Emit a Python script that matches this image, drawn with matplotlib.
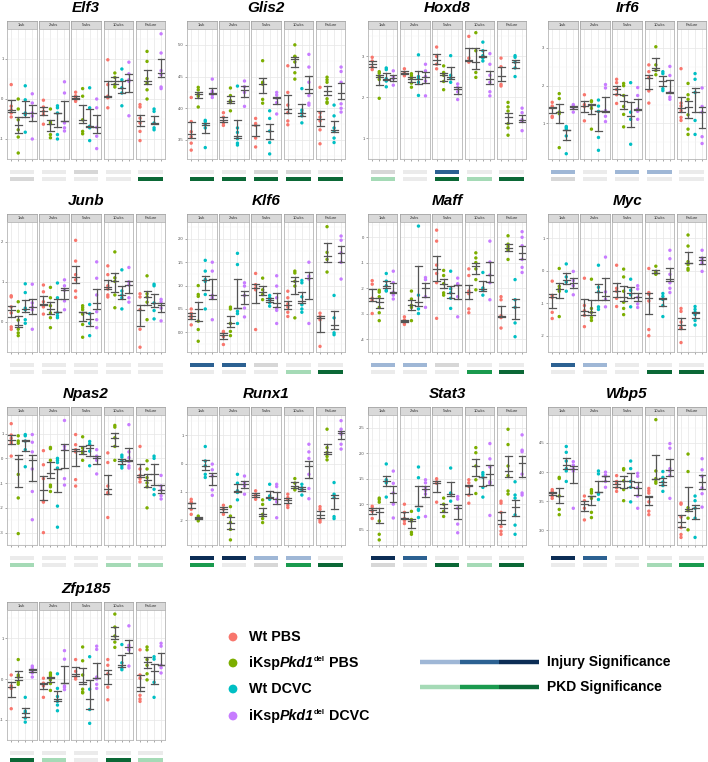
import matplotlib
matplotlib.use("Agg")
import matplotlib.pyplot as plt
import numpy as np

plt.rcParams["font.family"] = ["Liberation Sans", "DejaVu Sans"]

W, H = 708, 762

timepoints = ["1wk", "2wks", "5wks", "10wks", "Failure"]
groups = ["Wt PBS", "iKspPkd1del PBS", "Wt DCVC", "iKspPkd1del DCVC"]
group_colors = ["#F8766D", "#7CAE00", "#00BFC4", "#C77CFF"]

# values per gene: [timepoint][group] -> points
elf3 = [
    [[0.36, -0.18, -0.27, -0.35, -0.45], [0, -0.25, -0.52, -0.77, -0.95, -1.35], [0.33, -0.02, -0.35, -0.39, -0.83], [0.13, -0.1, -0.35, -0.43, -1.0]],
    [[-0.03, -0.2, -0.31, -0.39, -0.63], [-0.25, -0.58, -0.62, -0.89, -0.97], [-0.17, -0.22, -0.35, -0.89, -1.0], [0.43, 0.15, -0.6, -0.72, -0.8]],
    [[0.17, 0.08, 0.03, -0.02, -0.06], [0.26, 0.07, -0.52, -0.81, -0.87], [0.28, -0.22, -0.68, -0.72, -1.04], [0, -0.22, -0.71, -0.93, -1.24]],
    [[0.98, 0.36, 0.07, 0.03, -0.22], [0.65, 0.54, 0.36, 0.3], [0.75, 0.48, 0.28, 0.15, -0.17], [0.92, 0.63, 0.48, 0.44, -0.42]],
    [[-0.14, -0.2, -0.48, -0.6, -0.81, -1.04], [1.19, 0.94, 0.51, 0.4, 0.23, 0], [-0.25, -0.31, -0.6, -0.72, -0.77], [1.63, 1.15, 0.71, 0.61, 0.3, 0.26]],
]
glis2 = [
    [[4.17, 3.79, 3.63, 3.55, 3.45, 3.34], [4.33, 4.29, 4.22, 4.19, 4.02], [3.81, 3.79, 3.74, 3.69, 3.38], [4.46, 4.27, 4.24, 4.21, 4.17]],
    [[3.93, 3.86, 3.77, 3.73], [4.32, 4.2, 4.12, 4.09, 3.96], [4.35, 3.69, 3.62, 3.52, 3.45, 3.42], [4.43, 4.34, 4.25, 4.03]],
    [[3.84, 3.76, 3.73, 3.53, 3.39], [4.75, 4.41, 4.38, 4.14, 4.08], [3.96, 3.84, 3.64, 3.46, 3.28], [4.25, 4.21, 4.16, 4.09, 3.91]],
    [[4.67, 4.25, 4.05, 3.93, 3.8, 3.74], [5.0, 4.82, 4.81, 4.73, 4.56, 4.46], [4.31, 3.97, 3.93, 3.88, 3.77], [4.85, 4.65, 4.41, 4.2, 4.08, 4.05]],
    [[4.33, 3.93, 3.86, 3.8, 3.66, 3.44], [4.49, 4.45, 4.41, 4.15, 4.1, 4.08], [4.05, 3.88, 3.69, 3.64, 3.53, 3.46], [4.65, 4.58, 4.41, 4.07, 4.0, 3.94]],
]
hoxd8 = [
    [[2.98, 2.89, 2.74, 2.68], [2.63, 2.59, 2.51, 2.44, 1.98], [2.72, 2.68, 2.46, 2.4, 2.26], [2.65, 2.51, 2.46, 2.3]],
    [[2.7, 2.61, 2.58, 2.53], [2.58, 2.53, 2.46, 2.35, 2.25], [3.04, 2.51, 2.46, 2.37, 2.05], [2.81, 2.65, 2.51, 2.4, 2.04]],
    [[3.23, 3.0, 2.81, 2.7], [2.77, 2.61, 2.54, 2.39, 2.19], [3.02, 2.54, 2.46, 2.37], [2.33, 2.25, 2.14, 1.95]],
    [[3.49, 2.96, 2.89, 2.86], [3.58, 3.14, 2.61, 2.49], [3.35, 3.14, 3.02, 2.96, 2.89], [3.07, 2.81, 2.54, 2.37, 2.14, 2.04]],
    [[2.96, 2.75, 2.32, 2.28], [1.88, 1.77, 1.67, 1.36, 1.26, 1.08], [3.02, 2.98, 2.86, 2.72, 2.51], [1.74, 1.63, 1.46, 1.42, 1.19]],
]
irf6 = [
    [[1.56, 1.46, 1.42, 1.19, 1.16], [1.79, 1.66, 1.3, 1.26, 0.36], [0.92, 0.89, 0.85, 0.67, 0.2], [1.5, 1.46, 1.42, 1.3]],
    [[1.76, 1.5, 1.45, 1.07], [1.6, 1.58, 1.48, 1.4, 0.85], [1.62, 1.46, 1.32, 0.63, 0.29], [2.03, 1.94, 1.34, 1.19, 1.05]],
    [[2.17, 2.08, 1.9, 1.76, 1.53], [2.06, 2.0, 1.74, 1.45, 1.24, 0.91], [2.08, 1.3, 1.11, 0.45], [1.95, 1.74, 1.38, 1.32, 1.11]],
    [[2.55, 2.37, 2.21, 1.86, 1.54], [3.03, 2.55, 2.4, 2.29], [2.37, 2.32, 1.92, 1.87], [2.51, 2.27, 1.82, 1.7, 1.64]],
    [[2.45, 1.54, 1.46, 1.34, 1.16, 1.08], [2.06, 1.76, 1.64, 1.23, 0.85, 0.71], [2.32, 2.17, 1.82, 1.08, 0.71], [1.94, 1.45, 1.3, 0.65, 0.47]],
]
junb = [
    [[0.65, 0.62, 0.37, 0.22, -0.13, -0.19], [0.5, 0.26, 0.04, -0.19, -0.28, -0.35], [0.95, 0.73, 0.34, 0.3, 0.05, -0.04], [0.94, 0.47, 0.37, 0.3, -0.19]],
    [[0.92, 0.75, 0.5, 0.41, 0.37, 0.19], [0.86, 0.6, 0.4, 0.22, 0.1, -0.15], [0.97, 0.6, 0.22, 0.15, 0.1], [1.05, 0.9, 0.79, 0.52, 0.3]],
    [[2.04, 1.52, 1.18, 1.05, 0.77, 0.61], [0.4, 0.35, 0.3, 0.19, -0.07, -0.39], [0.43, 0.2, -0.04, -0.35], [1.5, 1.09, 0.67, 0.25, 0.05, -0.15]],
    [[1.4, 1.18, 0.9, 0.82, 0.67, 0.62], [1.75, 1.1, 1.01, 0.67, 0.35], [1.3, 0.77, 0.67, 0.6, 0.32], [1.36, 1.0, 0.92, 0.6, 0.49]],
    [[0.7, 0.62, 0.3, -0.19, -0.64], [1.15, 0.7, 0.62, 0.49, 0.05], [0.94, 0.9, 0.47, 0.28, 0.07], [0.56, 0.5, 0.34, 0.02]],
]
klf6 = [
    [[0.5, 0.41, 0.36, 0.31, 0.16], [1.0, 0.81, 0.77, 0.24, 0.06, -0.19], [1.54, 1.31, 1.13, 1.09, 0.81, 0.5], [1.5, 1.31, 0.79, 0.74, 0.27]],
    [[0.02, -0.01, -0.09, -0.26], [0.54, 0.5, 0.19, 0.02, -0.07], [1.69, 1.45, 0.45, 0.4, 0.19], [1.06, 0.99, 0.79, 0.52, 0.33]],
    [[1.26, 1.02, 0.95, 0.91, 0.06], [1.16, 0.91, 0.81, 0.7], [0.79, 0.74, 0.7, 0.63, 0.56], [1.21, 0.99, 0.74, 0.52, 0.47, 0.19]],
    [[0.88, 0.74, 0.61, 0.54, 0.43, 0.34], [1.31, 1.27, 1.09, 0.99, 0.31], [1.11, 1.06, 0.76, 0.59, 0.5, 0.43], [1.5, 1.2, 1.14, 0.19]],
    [[0.41, 0.34, 0.27, -0.3], [2.26, 1.71, 1.56, 1.29], [0.79, 0.31, -0.01, -0.05], [2.06, 1.97, 1.7, 1.5, 1.14]],
]
maff = [
    [[-1.7, -1.84, -2.39, -2.47, -2.99], [-2.08, -2.15, -2.33, -2.75, -2.96, -3.27], [-1.42, -1.72, -1.9, -2.08, -2.11], [-1.33, -1.78, -2.15, -2.27, -2.42]],
    [[-3.12, -3.24, -3.3, -3.36, -3.42], [-2.11, -2.42, -2.67, -2.75, -3.27], [0.44, -2.27, -2.81, -2.99], [-1.58, -1.66, -2.33, -2.75]],
    [[0.28, -0.15, -1.09, -1.42, -1.78, -3.18], [-1.3, -1.5, -1.82, -2.18, -2.27], [-1.33, -2.02, -2.18, -2.39, -2.79], [-1.6, -1.82, -1.87, -2.33, -3.12]],
    [[-1.24, -1.5, -2.11, -2.21, -2.81, -2.96], [-0.61, -0.81, -0.99, -1.24, -1.66, -2.06], [-1.38, -1.99, -2.06, -2.27], [-0.15, -0.97, -1.48, -1.78, -2.45]],
    [[-2.33, -2.45, -3.08, -3.15, -3.56], [0.06, -0.27, -0.36, -0.45, -0.51, -0.87], [-1.66, -2.45, -2.75, -3.36, -3.9], [0.22, 0, -0.33, -0.87, -1.18, -1.38]],
]
myc = [
    [[-0.32, -0.76, -0.82, -1.28, -1.47], [0.07, -0.48, -0.56, -0.63, -1.41], [0.21, -0.19, -0.35, -0.63], [-0.02, -0.3, -0.46, -0.74]],
    [[-0.23, -1.07, -1.23, -1.37, -1.72], [-0.26, -1.16, -1.28, -1.44, -1.53], [0.17, -0.51, -0.65, -1.11, -1.19], [0.42, -0.65, -0.88, -1.11]],
    [[0.17, -0.54, -0.63, -0.85, -1.1], [0.05, -0.19, -0.63, -0.97, -1.16, -1.35], [-0.26, -0.6, -0.74, -1.11], [-0.46, -0.56, -0.82, -1.02, -1.13]],
    [[0.07, -0.67, -0.72, -0.93, -1.81, -2.0], [0.14, -0.02, -0.07, -0.09, -0.11], [-0.7, -0.79, -0.88, -1.07, -1.41], [0.63, 0.37, -0.11, -0.37, -0.54, -0.67]],
    [[-1.16, -1.25, -1.58, -1.75, -1.78, -2.21], [1.1, 0.76, 0.28, 0.19, 0.07, 0.02], [-1.1, -1.19, -1.28, -1.35, -1.53, -1.67], [0.63, 0.39, 0.32, 0.23, -0.02]],
]
npas2 = [
    [[1.4, 0.94, 0.81, 0.7, 0.61, 0.09], [0.91, 0.7, 0.61, -0.65, -1.6, -3.04], [0.96, 0.91, 0.7, 0.35, -0.34], [0.96, 0.65, 0.26, -0.43, -1.34, -2.48]],
    [[0.31, -0.26, -0.82, -1.73, -1.77, -3.0], [0.44, 0.39, -0.08, -1.08, -1.15, -1.34], [0, -0.08, -0.17, -0.39, -1.93, -2.78], [1.53, 0.48, 0.35, -0.82, -1.08]],
    [[0.96, 0.55, 0.35, 0.26, -0.86, -1.12], [0.87, 0.42, 0.29, 0.22, -0.08], [0.68, 0.57, 0.29, -0.3], [0.35, 0.09, 0, -0.08, -0.63]],
    [[0.22, -0.17, -1.12, -1.38, -1.43, -2.39], [1.33, 1.26, 0.83, 0.48, -0.08], [0.13, 0.05, -0.1, -0.3, -0.39], [1.36, 0.26, 0.03, -0.13, -0.3, -0.39]],
    [[0.48, -0.43, -0.69, -0.82, -0.95], [-0.1, -0.43, -0.78, -0.99, -1.15, -2.0], [0.09, 0, -1.25, -1.47], [-0.69, -1.12, -1.28, -1.51, -1.64]],
]
runx1 = [
    [[-1.26, -1.35, -1.4, -1.61, -1.79], [-1.85, -1.91, -1.96, -2.02], [0.6, 0.09, -0.08, -0.38, -0.49], [-0.02, -0.22, -0.44, -0.93, -1.12]],
    [[-1.47, -1.61, -1.79], [-1.52, -1.85, -2.08, -2.32, -2.69], [-0.38, -0.69, -0.96, -1.02, -1.28], [-0.44, -0.67, -0.79, -1.08]],
    [[-0.96, -1.08, -1.16, -1.26], [-1.28, -1.44, -1.79, -1.94, -2.08], [-0.73, -1.14, -1.2, -1.26], [-0.73, -0.81, -1.26, -1.35, -1.91]],
    [[-1.08, -1.2, -1.28, -1.47, -1.55], [-0.53, -0.69, -0.88, -0.93], [-0.73, -0.85, -0.93, -1.11], [0.68, 0.41, 0.18, -0.38, -0.88, -1.24]],
    [[-1.52, -1.61, -1.99, -2.06], [1.21, 0.56, 0.39, 0.25, 0.13], [-0.67, -1.08, -1.2, -1.87, -1.94], [1.51, 1.21, 1.09, 1.04, 0.68, 0.51]],
]
stat3 = [
    [[0.96, 0.92, 0.86, 0.72], [1.12, 1.09, 1.04, 0.67, 0.41, 0.3], [1.79, 1.48, 1.45, 1.42, 1.14], [1.65, 1.41, 1.22, 1.0, 0.73]],
    [[1.0, 0.84, 0.72, 0.68, 0.62], [0.86, 0.7, 0.67, 0.45, 0.41], [1.73, 1.52, 0.9, 0.88, 0.74], [1.48, 1.42, 1.33, 1.27, 1.2, 0.76]],
    [[1.5, 1.44, 1.41, 1.04], [1.12, 1.0, 0.86, 0.76], [1.71, 1.22, 1.2, 1.06], [1.15, 1.1, 0.92, 0.61, 0.44]],
    [[1.48, 1.42, 1.35, 1.18, 1.02], [2.11, 2.01, 1.75, 1.48, 1.21], [1.62, 1.58, 1.53, 1.33, 1.14], [2.19, 1.89, 1.73, 1.44, 1.41, 0.78]],
    [[1.06, 1.02, 0.84, 0.56, 0.47, 0.41], [2.47, 2.17, 1.75, 1.56, 1.26, 1.2], [1.44, 1.18, 1.12, 0.79, 0.59, 0.41], [2.36, 2.06, 2.03, 1.59, 1.22, 1.18]],
]
wbp5 = [
    [[3.7, 3.67, 3.64, 3.59, 3.55], [3.91, 3.89, 3.59, 3.36, 3.27], [4.44, 4.34, 4.19, 4.06, 4.02, 3.84], [4.18, 4.12, 4.06, 4.02, 3.38]],
    [[3.59, 3.51, 3.38, 3.18], [3.7, 3.67, 3.64, 3.55, 3.31, 3.22], [4.02, 3.97, 3.64, 3.62, 3.53], [4.0, 3.95, 3.93, 3.84, 3.74]],
    [[3.94, 3.84, 3.8, 3.73, 3.67], [4.06, 4.04, 3.85, 3.7, 3.51], [4.19, 4.06, 3.84, 3.74, 3.49], [3.98, 3.93, 3.73, 3.59, 3.38]],
    [[3.72, 3.68, 3.64, 3.49, 3.33, 3.27], [4.9, 4.02, 3.89, 3.84, 3.81], [4.01, 3.91, 3.83, 3.77, 3.67], [4.49, 4.41, 4.06, 4.02, 3.94, 3.55]],
    [[3.47, 3.45, 3.23, 3.05, 2.93, 2.88], [4.31, 4.01, 3.39, 3.34, 3.21, 3.01], [3.59, 3.51, 3.38, 3.21, 2.88], [4.23, 4.04, 3.93, 3.73, 3.63, 3.4]],
]
zfp185 = [
    [[0.1, -0.17, -0.23, -0.73], [0.48, 0.1, 0.05, -0.08, -0.13], [-0.45, -0.79, -0.83, -0.96, -1.06], [0.32, 0.28, 0.25, 0.19, 0.15, 0.05]],
    [[0.02, -0.1, -0.13, -0.17, -0.45], [0.15, 0.1, 0.05, -0.02, -0.11, -0.28], [0.13, -0.23, -0.43, -0.55, -0.64, -0.78], [0.7, 0.49, -0.17, -0.2, -0.26]],
    [[0.48, 0.19, 0.05, 0], [0.79, 0.45, 0.1, -0.25, -0.32, -0.34], [0.55, -0.25, -0.75, -1.09], [0.81, 0.73, 0.05, 0, -0.13, -0.23]],
    [[0.48, 0.34, 0.13, -0.2, -0.51], [1.6, 1.28, 1.06, 0.91, 0.78], [0.85, 0.4, 0.28, 0.23], [1.31, 0.83, 0.78, 0.72, 0.32]],
    [[0.72, 0.1, 0.02, -0.4, -0.49, -0.55], [0.79, 0.72, 0.48, 0.34, 0.13, -0.02], [0.55, 0.49, -0.08, -0.45], [0.88, 0.81, 0.34, 0.28, 0.15]],
]

genes = ["Elf3", "Glis2", "Hoxd8", "Irf6", "Junb", "Klf6", "Maff", "Myc",
         "Npas2", "Runx1", "Stat3", "Wbp5", "Zfp185"]
gene_values = [elf3, glis2, hoxd8, irf6, junb, klf6, maff, myc,
               npas2, runx1, stat3, wbp5, zfp185]
gene_ylim = [(-1.5, 1.75), (3.2, 5.06), (0.94, 3.67), (0.06, 3.12), (-0.76, 2.15),
             (-0.42, 2.36), (-4.1, 0.6), (-2.39, 1.23), (-3.32, 1.75), (-2.87, 1.71),
             (0.2, 2.56), (2.79, 4.98), (-1.25, 1.7)]
gene_yticks = [[-1, 0, 1], [3.5, 4.0, 4.5, 5.0], [1, 2, 3], [1, 2, 3], [0, 1, 2],
               [0.0, 0.5, 1.0, 1.5, 2.0], [-4, -3, -2, -1, 0], [-2, -1, 0, 1],
               [-3, -2, -1, 0, 1], [-2, -1, 0, 1], [0.5, 1.0, 1.5, 2.0, 2.5],
               [3.0, 3.5, 4.0, 4.5], [-1, 0, 1]]
# significance per timepoint: 0 light grey, 1 grey, a/b/c light/mid/dark
injury_sig = ["00100", "00110", "10b00", "a0aa0", "00000", "bb100", "aa100",
              "ba000", "00000", "ccaa0", "cb000", "cb000", "00000"]
pkd_sig = ["1000c", "ccccc", "a0cac", "10000", "00000", "000ac", "000bc",
           "000cc", "a00aa", "b01bc", "10cac", "000ab", "ca0ca"]

greys = {"0": "#ebebeb", "1": "#d7d7d7"}
injury_colors = {"a": "#9fb7d6", "b": "#2c6192", "c": "#0c2d55"}
pkd_colors = {"a": "#a5dab6", "b": "#1a9a4e", "c": "#0b6836"}

fig = plt.figure(figsize=(W / 100, H / 100), dpi=100)

# overlay in pixel coordinates for bars and legend
lay = fig.add_axes([0, 0, 1, 1])
lay.set_xlim(0, W)
lay.set_ylim(H, 0)
lay.axis("off")

col_left = [7, 187, 368, 548]
row_top = [21, 214, 407, 602]
step, fw = 32.2, 29.5
strip_h, plot_h = 8, 130


def px_axes(x0, y0, w, h):
    return fig.add_axes([x0 / W, 1 - (y0 + h) / H, w / W, h / H])


def fmt(v, ticks):
    if any(abs(t - round(t)) > 1e-9 for t in ticks):
        return f"{v:.1f}"
    return f"{int(round(v))}"


for gi, name in enumerate(genes):
    r, c = divmod(gi, 4)
    left, top = col_left[c], row_top[r]
    lay.text(left + (4 * step + fw) / 2, top - 13, name, ha="center", va="center",
             fontsize=11, fontweight="bold", fontstyle="italic")
    ticks = gene_yticks[gi]
    d = ticks[1] - ticks[0]
    minor = [ticks[0] - d / 2] + [t + d / 2 for t in ticks]
    for ti, tp in enumerate(timepoints):
        x0 = left + ti * step
        # strip
        sax = px_axes(x0, top, fw, strip_h)
        sax.set_facecolor("#d9d9d9")
        sax.set_xticks([])
        sax.set_yticks([])
        for sp in sax.spines.values():
            sp.set_color("#9a9a9a")
            sp.set_linewidth(0.5)
        sax.text(0.5, 0.5, tp, ha="center", va="center", fontsize=3,
                 color="#333333", transform=sax.transAxes)
        # panel
        ax = px_axes(x0, top + strip_h, fw, plot_h)
        ax.set_xlim(0.4, 4.6)
        ax.set_ylim(*gene_ylim[gi])
        ax.set_xticks([1, 2, 3, 4])
        ax.set_yticks(ticks)
        ax.set_yticks(minor, minor=True)
        ax.grid(True, which="major", color="#e6e6e6", lw=0.5)
        ax.grid(True, which="minor", axis="y", color="#f3f3f3", lw=0.35)
        ax.set_axisbelow(True)
        for sp in ax.spines.values():
            sp.set_color("#b5b5b5")
            sp.set_linewidth(0.6)
        ax.tick_params(axis="x", length=1.5, width=0.4, color="#666666", labelbottom=False)
        ax.tick_params(axis="y", which="minor", length=0)
        if ti == 0:
            ax.tick_params(axis="y", length=1.5, width=0.4, color="#666666",
                           labelsize=3, labelcolor="#4d4d4d", pad=1)
            ax.set_yticklabels([fmt(v, ticks) for v in ticks])
        else:
            ax.tick_params(axis="y", length=0, labelleft=False)
        for k in range(4):
            pts = np.array(gene_values[gi][ti][k])
            xs = np.full(len(pts), k + 1.0)
            ax.scatter(xs, pts, s=6, color=group_colors[k], edgecolors="none", zorder=3)
            m = pts.mean()
            se = pts.std(ddof=1) / np.sqrt(len(pts))
            lo, hi = m - se, m + se
            med = np.median(pts)
            ax.plot([k + 1, k + 1], [lo, hi], color="#555555", lw=0.9, zorder=4)
            for yv in (lo, hi, min(max(med, lo), hi)):
                ax.plot([k + 0.5, k + 1.5], [yv, yv], color="#555555", lw=0.9, zorder=4)
        # significance bars
        yb = top + strip_h + plot_h
        ci = injury_sig[gi][ti]
        cp = pkd_sig[gi][ti]
        col_i = greys.get(ci, injury_colors.get(ci))
        col_p = greys.get(cp, pkd_colors.get(cp))
        lay.add_patch(plt.Rectangle((x0 + 2.5, yb + 10.5), fw - 5, 4, color=col_i, lw=0))
        lay.add_patch(plt.Rectangle((x0 + 2.5, yb + 17.5), fw - 5, 4, color=col_p, lw=0))

# legend: groups
renderer = fig.canvas.get_renderer()


def rich(x, y, parts):
    for s, style, size, dy in parts:
        t = lay.text(x, y + dy, s, ha="left", va="center", fontsize=size,
                     fontweight="bold", fontstyle=style)
        bb = t.get_window_extent(renderer=renderer)
        x += bb.width


legend_y = [637, 663, 689, 716]
legend_parts = [
    [("Wt PBS", "normal", 10.3, 0)],
    [("iKsp", "normal", 10.3, 0), ("Pkd1", "italic", 10.3, 0), ("del", "normal", 5.5, -3.5),
     ("\u00a0PBS", "normal", 10.3, 0)],
    [("Wt DCVC", "normal", 10.3, 0)],
    [("iKsp", "normal", 10.3, 0), ("Pkd1", "italic", 10.3, 0), ("del", "normal", 5.5, -3.5),
     ("\u00a0DCVC", "normal", 10.3, 0)],
]
for k in range(4):
    lay.scatter([233], [legend_y[k]], s=40, color=group_colors[k], edgecolors="none")
    rich(249, legend_y[k], legend_parts[k])

# legend: significance scales
sig_names = ["Injury Significance", "PKD Significance"]
sig_scales = [injury_colors, pkd_colors]
for j, yv in enumerate([662, 687]):
    for n, key in enumerate("abc"):
        lay.plot([420 + n * 39.7, 420 + (n + 1) * 39.7], [yv, yv],
                 color=sig_scales[j][key], lw=3.2, solid_capstyle="butt")
    lay.text(547, yv, sig_names[j], ha="left", va="center", fontsize=10,
             fontweight="bold")

fig.savefig("out.png", dpi=100)
